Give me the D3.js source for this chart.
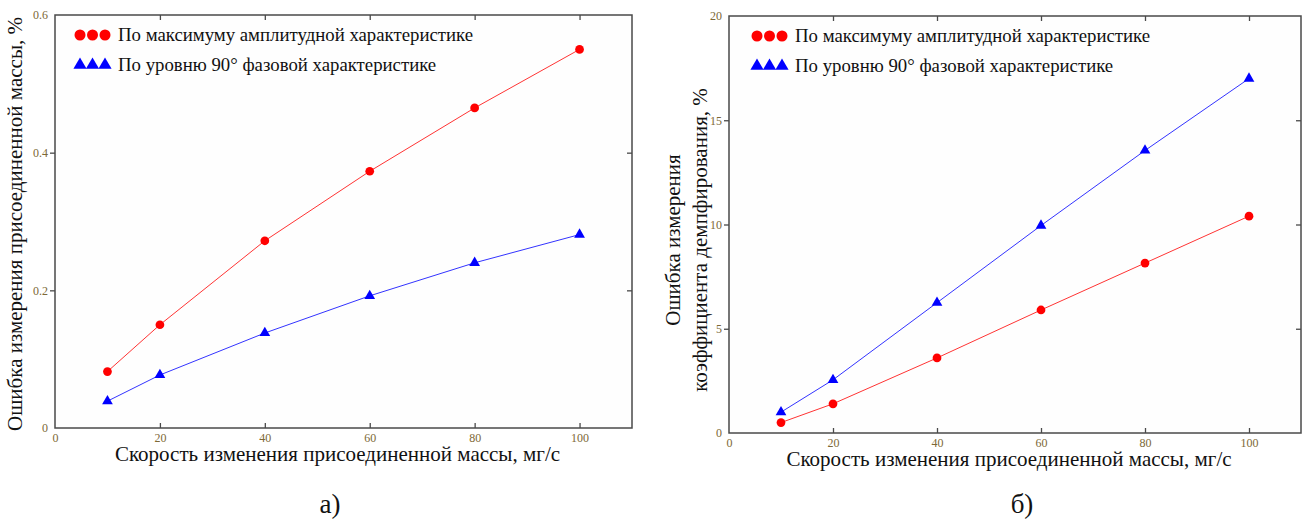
<!DOCTYPE html>
<html>
<head>
<meta charset="utf-8">
<script src="https://cdn.jsdelivr.net/npm/d3@7"></script>
<style>
  body { margin: 0; background: #fff; }
  svg { display: block; }
</style>
</head>
<body>
<script>
const W = 1308, H = 523;

// data
const speeds = [10, 20, 40, 60, 80, 100];
const xTicks = [0, 20, 40, 60, 80, 100];
const massAmp = [0.082, 0.15, 0.272, 0.373, 0.465, 0.55];
const massPhase = [0.039, 0.077, 0.138, 0.192, 0.24, 0.281];
const dampAmp = [0.5, 1.4, 3.6, 5.9, 8.15, 10.4];
const dampPhase = [1.0, 2.55, 6.25, 9.95, 13.55, 17.0];
const massTicks = [0, 0.2, 0.4, 0.6];
const dampTicks = [0, 5, 10, 15, 20];
const legendLabels = ['По максимуму амплитудной характеристике', 'По уровню 90° фазовой характеристике'];
const xTitle = 'Скорость изменения присоединенной массы, мг/с';

const RED = '#ff0000', BLUE = '#0000ff';
const serif = '"Liberation Serif", "Times New Roman", serif';

let svg = d3.select('body').append('svg').attr('width', W).attr('height', H);

const panels = [
  {
    box: { left: 55, right: 632, top: 15, bottom: 428 },
    yMax: 0.6, yTicks: massTicks, fmt: d => String(d),
    red: massAmp, blue: massPhase,
    yTitle: ['Ошибка измерения присоединенной массы, %'], yTitleX: [22], yTitleY: 224,
    legend: { x: 80, y: 35 }, caption: 'а)', capX: 330
  },
  {
    box: { left: 729, right: 1301, top: 16, bottom: 433 },
    yMax: 20, yTicks: dampTicks, fmt: d => String(d),
    red: dampAmp, blue: dampPhase,
    yTitle: ['Ошибка измерения', 'коэффициента демпфирования, %'], yTitleX: [680, 707], yTitleY: 240,
    legend: { x: 757, y: 36 }, caption: 'б)', capX: 1022
  }
];

panels.forEach(p => {
  const b = p.box;
  const x = d3.scaleLinear([0, 110], [b.left, b.right]);
  const y = d3.scaleLinear([0, p.yMax], [b.bottom, b.top]);
  const g = svg.append('g');

  // frame
  g.append('rect')
    .attr('x', b.left).attr('y', b.top)
    .attr('width', b.right - b.left).attr('height', b.bottom - b.top)
    .attr('fill', '#fefefe').attr('stroke', '#4a4a4a').attr('stroke-width', 1.5);

  // axes
  const styleAxis = sel => {
    sel.select('.domain').remove();
    sel.selectAll('line').attr('stroke', '#4a4a4a').attr('stroke-width', 1.3);
    sel.selectAll('text').attr('fill', '#7d6836')
      .style('font-family', serif).style('font-size', '12px');
  };

  g.append('g').attr('transform', `translate(0,${b.bottom})`)
    .call(d3.axisBottom(x).tickValues(xTicks).tickSize(-5).tickPadding(5).tickFormat(d3.format('d')))
    .call(styleAxis)
    .call(s => s.selectAll('.tick').filter(d => d === 0).select('line').remove());

  g.append('g').attr('transform', `translate(0,${b.top})`)
    .call(d3.axisTop(x).tickValues(xTicks.slice(1)).tickSize(-5).tickFormat(''))
    .call(styleAxis);

  g.append('g').attr('transform', `translate(${b.left},0)`)
    .call(d3.axisLeft(y).tickValues(p.yTicks).tickSize(5).tickPadding(2).tickFormat(p.fmt))
    .call(styleAxis)
    .call(s => s.selectAll('.tick').filter(d => d === 0 || d === p.yMax).select('line').remove());

  g.append('g').attr('transform', `translate(${b.right},0)`)
    .call(d3.axisRight(y).tickValues(p.yTicks.slice(1, -1)).tickSize(-5).tickFormat(''))
    .call(styleAxis);

  // series
  const series = [
    { vals: p.red, color: RED, sym: d3.symbolCircle, size: 60, lsize: 95 },
    { vals: p.blue, color: BLUE, sym: d3.symbolTriangle, size: 50, lsize: 75 }
  ];
  const line = d3.line().x((d, i) => x(speeds[i])).y(d => y(d));
  series.forEach(s => {
    g.append('path').datum(s.vals)
      .attr('d', line).attr('fill', 'none')
      .attr('stroke', s.color).attr('stroke-width', 1).attr('stroke-opacity', 0.8);
    g.selectAll(null).data(s.vals).enter().append('path')
      .attr('transform', (d, i) => `translate(${x(speeds[i])},${y(d)})`)
      .attr('d', d3.symbol(s.sym, s.size)())
      .attr('fill', s.color);
  });

  // legend
  series.forEach((s, k) => {
    const ly = p.legend.y + k * 30;
    [0, 1, 2].forEach(j => {
      g.append('path')
        .attr('transform', `translate(${p.legend.x + j * 12.5},${ly})`)
        .attr('d', d3.symbol(s.sym, s.lsize)())
        .attr('fill', s.color);
    });
    g.append('text')
      .attr('x', p.legend.x + 38).attr('y', ly + 6)
      .style('font-family', serif).style('font-size', '18.8px')
      .attr('fill', '#111').text(legendLabels[k]);
  });

  // axis titles
  g.append('text')
    .attr('x', (b.left + b.right) / 2 - 6).attr('y', b.bottom + 33)
    .attr('text-anchor', 'middle')
    .style('font-family', serif).style('font-size', '21px')
    .attr('fill', '#111').text(xTitle);

  p.yTitle.forEach((t, i) => {
    g.append('text')
      .attr('transform', `translate(${p.yTitleX[i]},${p.yTitleY}) rotate(-90)`)
      .attr('text-anchor', 'middle')
      .style('font-family', serif).style('font-size', '21px')
      .attr('fill', '#111').text(t);
  });

  g.append('text')
    .attr('x', p.capX).attr('y', 513)
    .attr('text-anchor', 'middle')
    .style('font-family', serif).style('font-size', '27px')
    .attr('fill', '#111').text(p.caption);
});
</script>
</body>
</html>
